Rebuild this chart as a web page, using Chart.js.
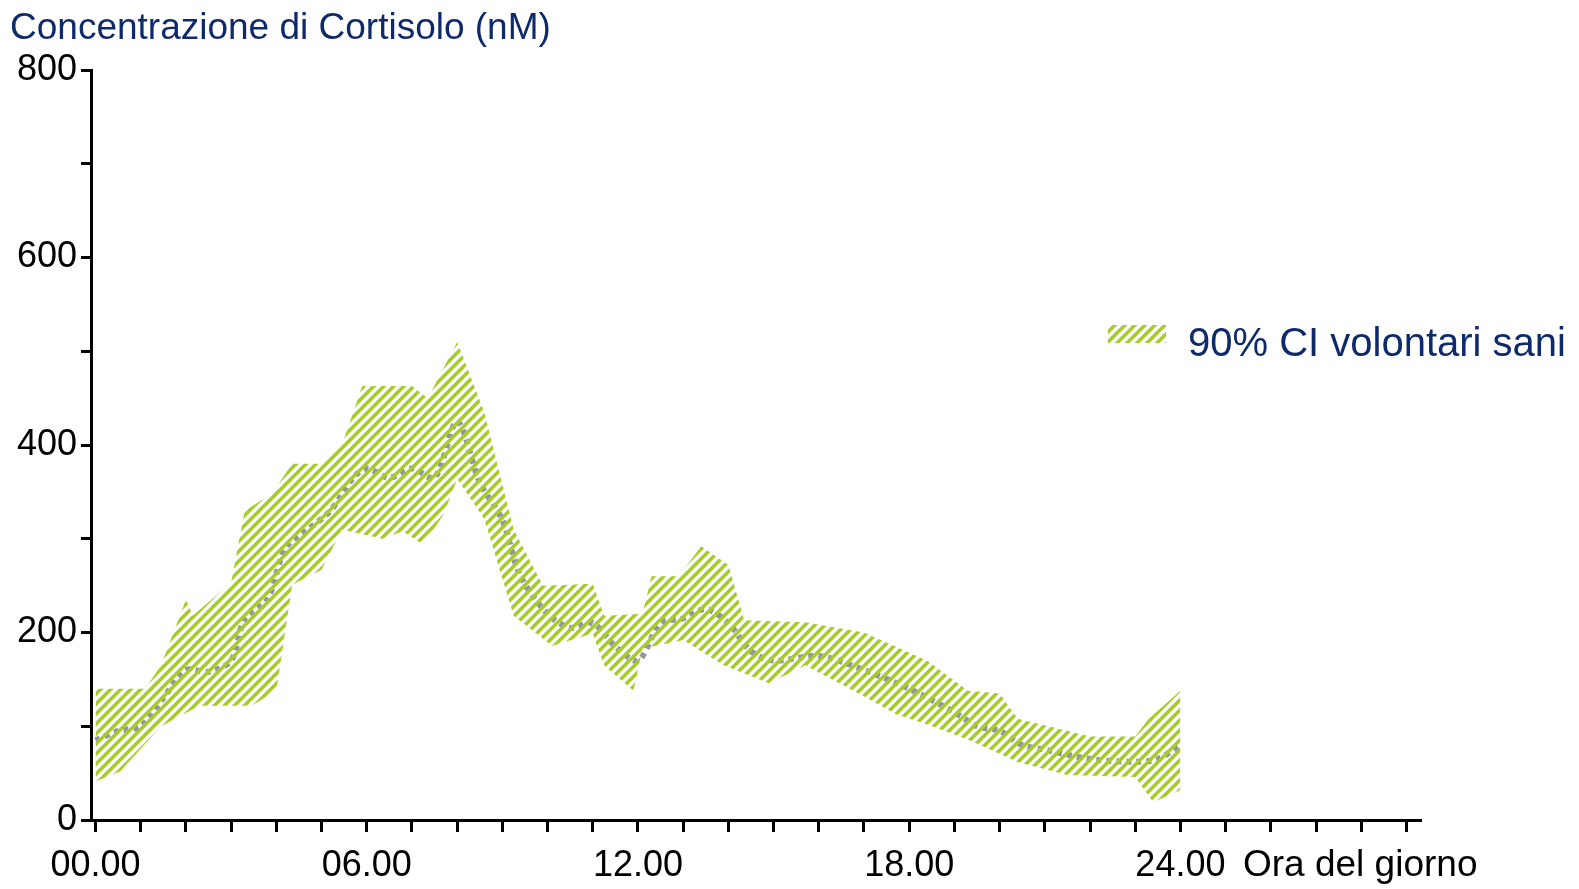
<!DOCTYPE html>
<html>
<head>
<meta charset="utf-8">
<script src="https://cdn.jsdelivr.net/npm/chart.js@4.4.1/dist/chart.umd.min.js"></script>
<style>
  html, body { margin: 0; padding: 0; background: #fff; }
  #wrap { width: 1579px; height: 889px; }
</style>
</head>
<body>
<div id="wrap"><canvas id="c"></canvas></div>
<script>
// ore del giorno e limiti della banda CI 90%
const upperHours = [0, 1.1, 1.45, 2, 2.15, 3, 3.3, 3.9, 4.35, 5, 5.45, 5.9, 7, 7.35, 8, 8.6, 9.25, 9.9, 11, 11.25, 12.1, 12.3, 12.9, 13.4, 14, 14.35, 15.7, 17, 18.4, 19.3, 20, 20.4, 22, 23, 23.3, 24];
const upperValues = [140, 140, 165, 235, 218, 253, 330, 348, 380, 380, 400, 463, 463, 450, 510, 435, 310, 250, 252, 218, 220, 260, 260, 292, 272, 213, 211, 200, 170, 138, 135, 108, 89, 89, 108, 138];
const lowerHours = [0, 0.55, 1.45, 2.3, 3.45, 4, 4.35, 5, 5.45, 6.35, 6.8, 7.25, 7.7, 8, 8.6, 9.25, 10.1, 11, 11.25, 11.9, 12.1, 13, 13.9, 14.9, 15.7, 17, 17.7, 18.4, 19.3, 20.4, 21.5, 23, 23.4, 24];
const lowerValues = [41, 52, 100, 122, 122, 138, 251, 267, 310, 300, 308, 294, 326, 364, 321, 218, 186, 199, 165, 138, 183, 192, 165, 146, 165, 132, 113, 102, 86, 62, 48, 46, 19, 32];
// andamento medio (linea tratteggiata)
const meanHours = [0, 0.5, 1, 1.5, 2, 2.5, 3, 3.3, 3.8, 4.2, 4.7, 5.2, 5.7, 6, 6.5, 7, 7.5, 8, 8.5, 9, 9.4, 10, 10.5, 11, 11.5, 12, 12.5, 13, 13.5, 14, 14.5, 15, 16, 17, 18, 19, 19.5, 20, 20.5, 21, 22, 23, 23.5, 24];
const meanValues = [85, 95, 100, 130, 160, 158, 170, 215, 235, 290, 310, 330, 365, 375, 365, 375, 365, 425, 360, 320, 260, 220, 205, 210, 185, 170, 210, 215, 225, 210, 180, 170, 175, 160, 140, 115, 100, 95, 80, 75, 65, 62, 65, 80];
const xLabelHours = [0, 6, 12, 18, 24];
const yLabelValues = [0, 200, 400, 600, 800];

const toPoints = (xs, ys) => xs.map((x, i) => ({ x: x, y: ys[i] }));

function makeHatch() {
    const c = document.createElement('canvas');
    c.width = 10; c.height = 10;
    const g = c.getContext('2d');
    g.strokeStyle = '#a5cf1e';
    g.lineWidth = 3.6;
    g.beginPath();
    g.moveTo(-2, 12); g.lineTo(12, -2);
    g.moveTo(-7, 7); g.lineTo(7, -7);
    g.moveTo(3, 17); g.lineTo(17, 3);
    g.stroke();
    return g.createPattern(c, 'repeat');
}
const hatch = makeHatch();
const FONT = "'Liberation Sans', Arial, sans-serif";

const extraText = {
    id: 'extraText',
    afterDraw(chart) {
        const ctx = chart.ctx;
        ctx.save();
        ctx.font = '37px ' + FONT;
        ctx.fillStyle = '#0f2a6b';
        ctx.textBaseline = 'alphabetic';
        ctx.fillText('Concentrazione di Cortisolo (nM)', 10, 39);
        ctx.fillStyle = '#000';
        ctx.fillText('Ora del giorno', 1243, 876);
        // legenda
        ctx.fillStyle = hatch;
        ctx.fillRect(1108, 325, 58, 18);
        ctx.font = '40px ' + FONT;
        ctx.fillStyle = '#0f2a6b';
        ctx.fillText('90% CI volontari sani', 1188, 356);
        ctx.restore();
    }
};

new Chart(document.getElementById('c'), {
    type: 'line',
    data: {
        datasets: [
            {
                label: 'upper',
                data: toPoints(upperHours, upperValues),
                borderWidth: 0,
                pointRadius: 0,
                backgroundColor: hatch,
                fill: 1
            },
            {
                label: 'lower',
                data: toPoints(lowerHours, lowerValues),
                borderWidth: 0,
                pointRadius: 0,
                fill: false
            },
            {
                label: 'media',
                data: toPoints(meanHours, meanValues),
                borderColor: '#9595a2',
                borderWidth: 6,
                borderDash: [5, 5],
                pointRadius: 0,
                tension: 0.3,
                fill: false
            }
        ]
    },
    options: {
        responsive: true,
        maintainAspectRatio: false,
        animation: false,
        layout: { padding: { top: 70, right: 159, left: 0, bottom: 0 } },
        plugins: { legend: { display: false }, tooltip: { enabled: false } },
        scales: {
            x: {
                type: 'linear',
                min: -0.1,
                max: 29.3,
                afterBuildTicks: s => { s.ticks = Array.from({ length: 30 }, (_, i) => ({ value: i })); },
                afterFit: s => { s.height = 69; },
                border: { color: '#000', width: 3 },
                grid: { drawOnChartArea: false, drawTicks: true, tickLength: 12, color: '#000', lineWidth: 3 },
                ticks: {
                    autoSkip: false,
                    maxRotation: 0,
                    padding: 12,
                    color: '#000',
                    font: { family: FONT, size: 36 },
                    callback: v => xLabelHours.includes(v) ? String(v).padStart(2, '0') + '.00' : ''
                }
            },
            y: {
                min: 0,
                max: 800,
                afterBuildTicks: s => { s.ticks = Array.from({ length: 9 }, (_, i) => ({ value: i * 100 })); },
                afterFit: s => { s.width = 91; },
                border: { color: '#000', width: 3 },
                grid: { drawOnChartArea: false, drawTicks: true, tickLength: 10, color: '#000', lineWidth: 3 },
                ticks: {
                    autoSkip: false,
                    padding: 4,
                    color: '#000',
                    font: { family: FONT, size: 36 },
                    callback: v => yLabelValues.includes(v) ? String(v) : ''
                }
            }
        }
    },
    plugins: [extraText]
});
</script>
</body>
</html>
